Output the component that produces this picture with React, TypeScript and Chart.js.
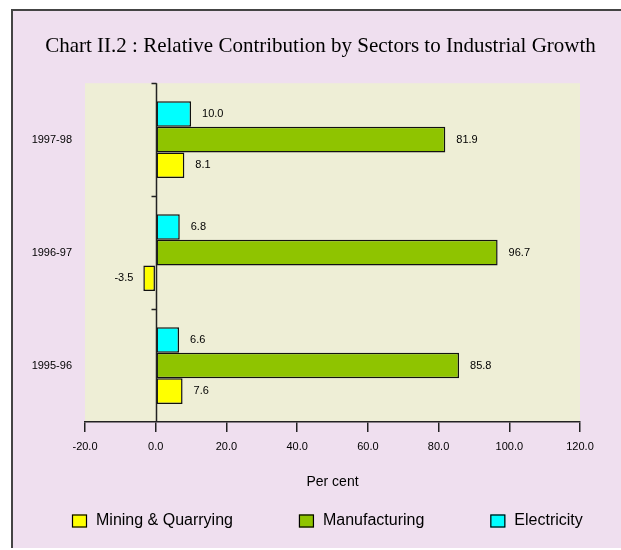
import React, { useEffect, useRef } from "react";
import { Chart, registerables } from "chart.js";

Chart.register(...registerables);

const categories = ["1997-98", "1996-97", "1995-96"];
const miningValues = [8.1, -3.5, 7.6];
const manufacturingValues = [81.9, 96.7, 85.8];
const electricityValues = [10.0, 6.8, 6.6];
const xTickValues = [-20, 0, 20, 40, 60, 80, 100, 120];

const titleText = "Chart II.2 : Relative Contribution by Sectors to Industrial Growth";
const SANS = "'Liberation Sans', Arial, sans-serif";
const SERIF = "'Liberation Serif', 'Times New Roman', serif";

const plotDecor = {
  id: "plotDecor",
  beforeDraw(chart: any) {
    const { ctx, chartArea } = chart;
    ctx.save();
    ctx.fillStyle = "#EEEED6";
    ctx.fillRect(chartArea.left, chartArea.top, chartArea.right - chartArea.left, chartArea.bottom - chartArea.top);
    ctx.restore();
  },
  afterDatasetsDraw(chart: any) {
    const { ctx, chartArea, scales } = chart;
    const x0 = Math.round(scales.x.getPixelForValue(0)) + 0.5;
    ctx.save();
    ctx.strokeStyle = "#222";
    ctx.lineWidth = 1.5;
    ctx.beginPath();
    ctx.moveTo(x0, chartArea.top);
    ctx.lineTo(x0, chartArea.bottom);
    const n = categories.length;
    for (let i = 0; i < n; i++) {
      const y = i === 0 ? chartArea.top : (scales.y.getPixelForValue(i - 1) + scales.y.getPixelForValue(i)) / 2;
      const yy = Math.round(y) + 0.5;
      ctx.moveTo(x0 - 5, yy);
      ctx.lineTo(x0, yy);
    }
    ctx.stroke();

    // data labels
    ctx.fillStyle = "#000";
    ctx.font = `11px ${SANS}`;
    ctx.textBaseline = "middle";
    chart.data.datasets.forEach((ds: any, di: number) => {
      const meta = chart.getDatasetMeta(di);
      meta.data.forEach((bar: any, i: number) => {
        const v = ds.data[i];
        const label = v.toFixed(1);
        if (v >= 0) {
          ctx.textAlign = "left";
          ctx.fillText(label, bar.x + 11, bar.y);
        } else {
          ctx.textAlign = "right";
          ctx.fillText(label, bar.x - 10, bar.y);
        }
      });
    });
    ctx.restore();
  },
  afterDraw(chart: any) {
    const { ctx } = chart;
    const items = [...chart.data.datasets].reverse();
    ctx.save();
    ctx.font = `16px ${SANS}`;
    ctx.textBaseline = "middle";
    ctx.textAlign = "left";
    let x = 72;
    const y = 521;
    items.forEach((ds: any) => {
      ctx.fillStyle = ds.backgroundColor;
      ctx.fillRect(x, y - 6.5, 15, 13);
      ctx.strokeStyle = "#000";
      ctx.lineWidth = 1.2;
      ctx.strokeRect(x + 0.5, y - 6, 14, 12);
      ctx.fillStyle = "#000";
      ctx.fillText(ds.label, x + 24, y);
      const w = ctx.measureText(ds.label).width;
      x = x + 24 + w + 66;
    });
    ctx.restore();
  },
};

export default function App() {
  const canvasRef = useRef<HTMLCanvasElement | null>(null);

  useEffect(() => {
    const canvas = canvasRef.current;
    if (!canvas) return;
    const chart = new Chart(canvas, {
      type: "bar",
      data: {
        labels: categories,
        datasets: [
          {
            label: "Electricity",
            data: electricityValues,
            backgroundColor: "#00FFFF",
            borderColor: "#111",
            borderWidth: 1.5,
            borderSkipped: false,
          },
          {
            label: "Manufacturing",
            data: manufacturingValues,
            backgroundColor: "#8FC400",
            borderColor: "#111",
            borderWidth: 1.5,
            borderSkipped: false,
          },
          {
            label: "Mining & Quarrying",
            data: miningValues,
            backgroundColor: "#FFFF00",
            borderColor: "#111",
            borderWidth: 1.5,
            borderSkipped: false,
          },
        ],
      },
      options: {
        indexAxis: "y",
        responsive: false,
        animation: false,
        layout: { padding: { left: 20, right: 0, top: 0, bottom: 58 } },
        datasets: {
          bar: { categoryPercentage: 0.68, barPercentage: 1.0 },
        },
        plugins: {
          legend: { display: false },
          tooltip: { enabled: false },
          title: {
            display: true,
            text: titleText,
            color: "#000",
            font: { family: SERIF, size: 21, weight: "normal", lineHeight: 1.2 },
            padding: { top: 34, bottom: 24 },
          },
        },
        scales: {
          x: {
            type: "linear",
            min: -20,
            max: 120,
            afterBuildTicks: (scale: any) => {
              scale.ticks = xTickValues.map((v) => ({ value: v }));
            },
            afterFit: (scale: any) => {
              scale.height = 70;
            },
            ticks: {
              color: "#000",
              font: { family: SANS, size: 11 },
              padding: 8,
              maxRotation: 0,
              callback: (v: any) => Number(v).toFixed(1),
            },
            grid: {
              drawOnChartArea: false,
              drawTicks: true,
              tickLength: 10,
              color: "#222",
              lineWidth: 1.5,
            },
            border: { display: true, color: "#222", width: 1.5 },
            title: {
              display: true,
              text: "Per cent",
              color: "#000",
              font: { family: SANS, size: 14 },
              padding: { top: 18, bottom: 1 },
            },
          },
          y: {
            type: "category",
            afterFit: (scale: any) => {
              scale.width = 65;
            },
            ticks: {
              color: "#000",
              font: { family: SANS, size: 11 },
              padding: 13,
            },
            grid: { display: false, drawTicks: false },
            border: { display: false },
          },
          yRightSpace: {
            type: "category",
            position: "right",
            labels: categories,
            afterFit: (scale: any) => {
              scale.width = 41;
            },
            ticks: { display: false },
            grid: { display: false, drawTicks: false },
            border: { display: false },
          },
        },
      },
      plugins: [plotDecor],
    } as any);
    return () => chart.destroy();
  }, []);

  return (
    <div
      style={{
        position: "fixed",
        left: 0,
        top: 0,
        width: 621,
        height: 550,
        background: "#fff",
        overflow: "hidden",
      }}
    >
      <div
        style={{
          position: "absolute",
          left: 11,
          top: 9,
          width: 700,
          height: 539,
          background: "#EFDFEF",
          borderLeft: "2px solid #444",
          borderTop: "2px solid #444",
          boxSizing: "border-box",
        }}
      />
      <canvas
        ref={canvasRef}
        width={621}
        height={550}
        style={{ position: "absolute", left: 0, top: 0 }}
      />
    </div>
  );
}
